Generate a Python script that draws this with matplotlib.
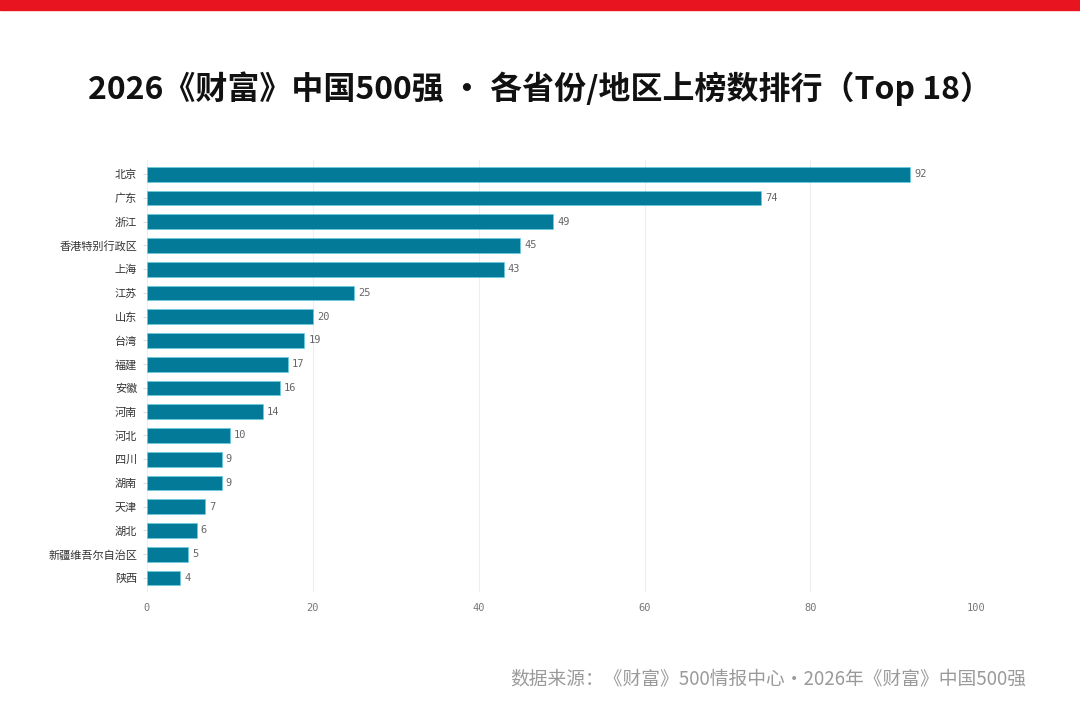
import matplotlib
matplotlib.use("Agg")
import matplotlib.pyplot as plt

plt.rcParams['font.family'] = ['Noto Sans CJK SC', 'DejaVu Sans']

regions = ["北京", "广东", "浙江", "香港特别行政区", "上海", "江苏", "山东", "台湾", "福建",
           "安徽", "河南", "河北", "四川", "湖南", "天津", "湖北", "新疆维吾尔自治区", "陕西"]
counts = [92, 74, 49, 45, 43, 25, 20, 19, 17, 16, 14, 10, 9, 9, 7, 6, 5, 4]

fig = plt.figure(figsize=(10.8, 7.24), dpi=100)
fig.patches.append(plt.Rectangle((0, 0.986), 1, 0.014, transform=fig.transFigure,
                                 color="#e8141f", zorder=0))
fig.text(0.5, 0.878, "2026《财富》中国500强 · 各省份/地区上榜数排行（Top 18）",
         ha="center", va="center", fontsize=23, fontweight="bold", color="#111111")
fig.text(0.95, 0.062, "数据来源：《财富》500情报中心・2026年《财富》中国500强",
         ha="right", va="center", fontsize=13.5, color="#9a9a9a")

ax = fig.add_axes([0.136, 0.182, 0.768, 0.597])
y = list(range(len(regions)))
ax.barh(y, counts, height=0.62, color="#047a99", edgecolor="#5fd0e8", linewidth=0.4, zorder=2)
for yi, c in zip(y, counts):
    ax.text(c + 0.5, yi, str(c), va="center", ha="left", fontsize=7.5,
            family="DejaVu Sans Mono", color="#666666")
ax.set_yticks(y)
ax.set_yticklabels(regions, fontsize=8, color="#333333")
ax.set_ylim(len(regions) - 0.4, -0.6)
ax.set_xlim(0, 100)
ax.set_xticks([0, 20, 40, 60, 80, 100])
ax.set_xticklabels(["0", "20", "40", "60", "80", "100"], family="DejaVu Sans Mono",
                   fontsize=7.5, color="#777777")
ax.grid(axis="x", color="#eeeeee", linewidth=0.8, zorder=0)
for s in ax.spines.values():
    s.set_visible(False)
ax.tick_params(axis="x", length=0, pad=8)
ax.tick_params(axis="y", length=3, color="#dddddd", pad=4)

fig.savefig("out.png", dpi=100)
